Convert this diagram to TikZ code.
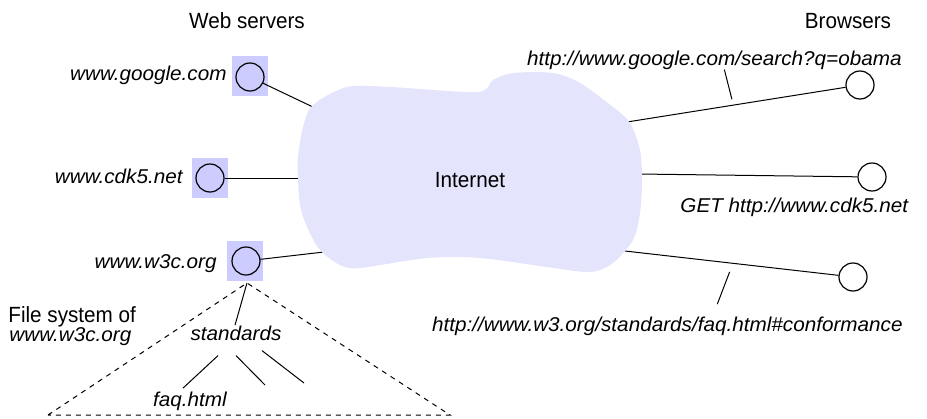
\documentclass[tikz,border=0pt]{standalone}
\usepackage{fontspec}
\setmainfont{Liberation Sans}[FakeStretch=0.94]
\newfontfamily\urlfont{Liberation Sans}[FakeStretch=1.035]
\usetikzlibrary{calc}
\definecolor{cloudblue}{RGB}{228,228,252}
\definecolor{hostblue}{RGB}{204,204,255}
\tikzset{host/.style={draw=black, circle, line width=0.6pt, minimum size=14pt}}
\tikzset{server box/.style={fill=hostblue, rectangle, minimum width=18pt, minimum height=20pt}}
\tikzset{url/.style={font=\urlfont\itshape}}
\tikzset{link/.style={line width=0.5pt}}
\tikzset{fs line/.style={line width=0.5pt, dash pattern=on 2.5pt off 2.5pt}}

\begin{document}
\begin{tikzpicture}[x=0.5pt, y=-0.5pt, inner sep=0pt, font=\fontsize{11}{13}\selectfont]
\useasboundingbox (0,0) rectangle (927,418);

% web servers
\node[anchor=base] (servers) at (247,28) {Web servers};
\node[server box] (gbox) at (250,76) {};
\node[host] (gsrv) at (250,77) {};
\node[url, anchor=base east] (glabel) at (227,80) {www.google.com};
\node[server box] (cbox) at (210,178) {};
\node[host] (csrv) at (210,178) {};
\node[url, anchor=base east] (clabel) at (183,183) {www.cdk5.net};
\node[server box] (wbox) at (245,261) {};
\node[host] (wsrv) at (246,261) {};
\node[url, anchor=base east] (wlabel) at (217,268) {www.w3c.org};

% browsers
\node[anchor=base] (browsers) at (848,28) {Browsers};
\node[host] (gbr) at (860,85) {};
\node[host] (cbr) at (872,177) {};
\node[host] (wbr) at (853,277) {};
\node[url, anchor=base east] (gurl) at (902,65) {http://www.google.com/search?q=obama};
\node[url, anchor=base west] (curl) at (680,212) {GET http://www.cdk5.net};
\node[url, anchor=base east] (wurl) at (903,331) {http://www.w3.org/standards/faq.html\#conformance};

% ends inside the cloud
\coordinate (net-g) at (315,108);
\coordinate (net-c) at (301,178);
\coordinate (net-w) at (324,252);
\coordinate (net-gb) at (627,122);
\coordinate (net-cb) at (638,174);
\coordinate (net-wb) at (625,251);

\draw[link] (gsrv) -- (net-g);
\draw[link] (csrv) -- (net-c);
\draw[link] (wsrv) -- (net-w);
\draw[link] (net-gb) -- coordinate[pos=0.48] (gtick) (gbr);
\draw[link] (net-cb) -- (cbr);
\draw[link] (net-wb) -- coordinate[pos=0.49] (wtick) (wbr);
\draw[link] ([xshift=5pt]gurl.south) -- ([yshift=3pt]gtick);
\draw[link] ([yshift=-4.5pt]wtick) -- ([xshift=25pt, yshift=6pt]wurl.north);

% the cloud
\fill[cloudblue] plot[smooth cycle] coordinates {
  (298,178) (300,205) (307,227) (320,250) (340,265) (360,268) (427,258)
  (480,258) (547,267) (590,272) (613,263) (633,240) (640,213) (642,180)
  (640,150) (630,123) (613,107) (580,83) (553,73) (513,73) (493,80)
  (477,92) (390,87) (347,87) (313,105) (303,127) (298,157)};
\node (net) at (470,180) {Internet};

% file system of the w3c server
\coordinate (fs top) at (247,283);
\coordinate (fs left) at (48,415);
\coordinate (fs right) at (450,415);
\draw[fs line] (fs left) -- (fs top) -- (fs right) -- (fs left);
\node[anchor=base west] (fs label) at (8,322) {File system of};
\node[url, anchor=base west] (fs host) at (9,341) {www.w3c.org};
\node[url, anchor=base] (std) at (236,340) {standards};
\node[url, anchor=base] (faq) at (190,406) {faq.html};
\coordinate (std a) at (265,385);
\coordinate (std b) at (304,383);
\draw[link] (fs top) -- ([xshift=-0.5pt]std.north);
\draw[link] ([xshift=-9pt, yshift=-7.5pt]std.south) -- ([xshift=-3.5pt, yshift=1.5pt]faq.north);
\draw[link] ([yshift=-7.5pt]std.south) -- (std a);
\draw[link] ([xshift=13pt, yshift=-5pt]std.south) -- (std b);
\end{tikzpicture}
\end{document}
